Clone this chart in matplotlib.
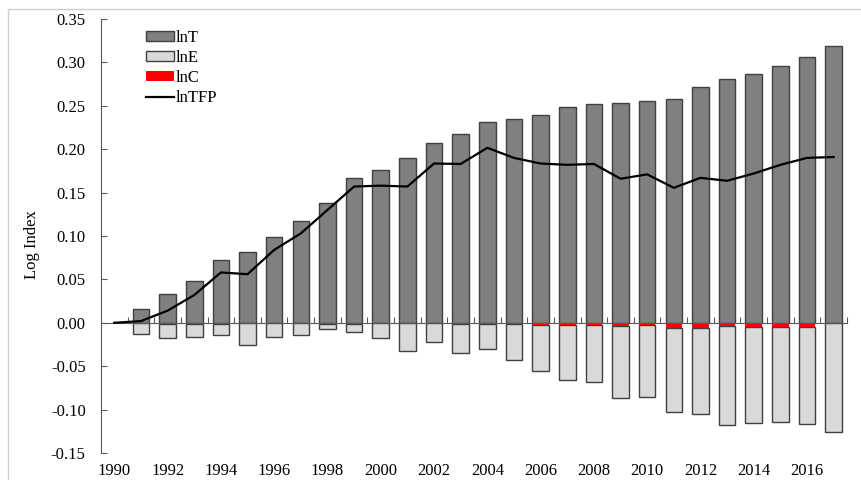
import numpy as np
import matplotlib
matplotlib.use('Agg')
from matplotlib import pyplot as plt
from matplotlib.patches import Rectangle
from matplotlib.ticker import FormatStrFormatter

plt.rcParams['font.family'] = ['Liberation Serif', 'DejaVu Serif']
plt.rcParams['font.size'] = 12
plt.rcParams['axes.unicode_minus'] = False

# data
years = list(range(1990, 2018))
bar_years = years[1:]
lnT = [0.016, 0.033, 0.048, 0.072, 0.081, 0.099, 0.117, 0.138, 0.167, 0.176,
       0.190, 0.207, 0.218, 0.231, 0.235, 0.239, 0.249, 0.252, 0.253, 0.256,
       0.258, 0.272, 0.281, 0.287, 0.296, 0.306, 0.319]
lnE = [-0.013, -0.017, -0.0155, -0.0125, -0.026, -0.0165, -0.0135, -0.0066, -0.0093, -0.018,
       -0.032, -0.0225, -0.0335, -0.0293, -0.0424, -0.0533, -0.0637, -0.0657, -0.0824, -0.0836,
       -0.0962, -0.0989, -0.1136, -0.1107, -0.1094, -0.1117, -0.1263]
lnC = [0.0, -0.001, -0.001, -0.001, 0.0, 0.0, 0.0, -0.001, -0.001, 0.0,
       0.0, 0.0, -0.001, -0.001, -0.001, -0.002, -0.002, -0.003, -0.004, -0.002,
       -0.006, -0.006, -0.004, -0.0045, -0.005, -0.005, 0.0]
lnTFP = [0.0, 0.002, 0.014, 0.032, 0.058, 0.056, 0.084, 0.103, 0.130, 0.157,
         0.158, 0.157, 0.1835, 0.183, 0.2016, 0.190, 0.1835, 0.182, 0.183, 0.166,
         0.171, 0.1555, 0.167, 0.1636, 0.172, 0.182, 0.190, 0.191]
year_labels = [str(y) for y in years[::2]]

W, H = 861, 480
fig = plt.figure(figsize=(W / 100, H / 100), dpi=100)
ax = fig.add_axes([101 / W, 1 - 453 / H, (847 - 101) / W, (453 - 19) / H])

edge = '#404040'
bw = 0.62
bT = ax.bar(bar_years, lnT, width=bw, color='#808080', edgecolor=edge, linewidth=1, label='lnT')
bE = ax.bar(bar_years, lnE, width=bw, bottom=lnC, color='#d9d9d9', edgecolor=edge, linewidth=1, label='lnE')
bC = ax.bar(bar_years, lnC, width=bw, color='#ff0000', edgecolor='none', linewidth=0, label='lnC')
ln, = ax.plot(years, lnTFP, color='black', linewidth=1.6, label='lnTFP', zorder=5)

ax.set_xlim(1989.5, 2017.5)
ax.set_ylim(-0.15, 0.35)
ax.set_yticks(np.arange(-0.15, 0.351, 0.05))
ax.yaxis.set_major_formatter(FormatStrFormatter('%.2f'))

for s in ['top', 'right']:
    ax.spines[s].set_visible(False)
ax.spines['bottom'].set_position(('data', 0))
ax.spines['bottom'].set_color('#595959')
ax.spines['left'].set_color('#595959')
ax.spines['bottom'].set_zorder(4)

ax.set_xticks(np.array(years) + 0.5)
ax.tick_params(axis='x', direction='in', length=4, color='#595959', labelbottom=False)
ax.tick_params(axis='y', direction='in', length=4, color='#595959', pad=11)

sec = ax.secondary_xaxis('bottom')
sec.set_xticks(years[::2], labels=year_labels)
sec.tick_params(length=0, pad=7)
sec.spines['bottom'].set_visible(False)

ax.set_ylabel('Log Index')
ax.yaxis.set_label_coords(-0.082, 0.48)

ax.legend(handles=[bT, bE, bC, ln], loc='upper left', bbox_to_anchor=(146 / W, 1 - 30 / H),
          bbox_transform=fig.transFigure, frameon=False, borderpad=0, borderaxespad=0,
          handlelength=1.65, handleheight=0.55, handletextpad=0.15, labelspacing=0.25)

fig.add_artist(Rectangle((8 / W, -0.1), 1.2, 1.1 - 9 / H, transform=fig.transFigure,
                         fill=False, edgecolor='#d0d0d0', linewidth=1))

fig.savefig('out.png', dpi=100)
